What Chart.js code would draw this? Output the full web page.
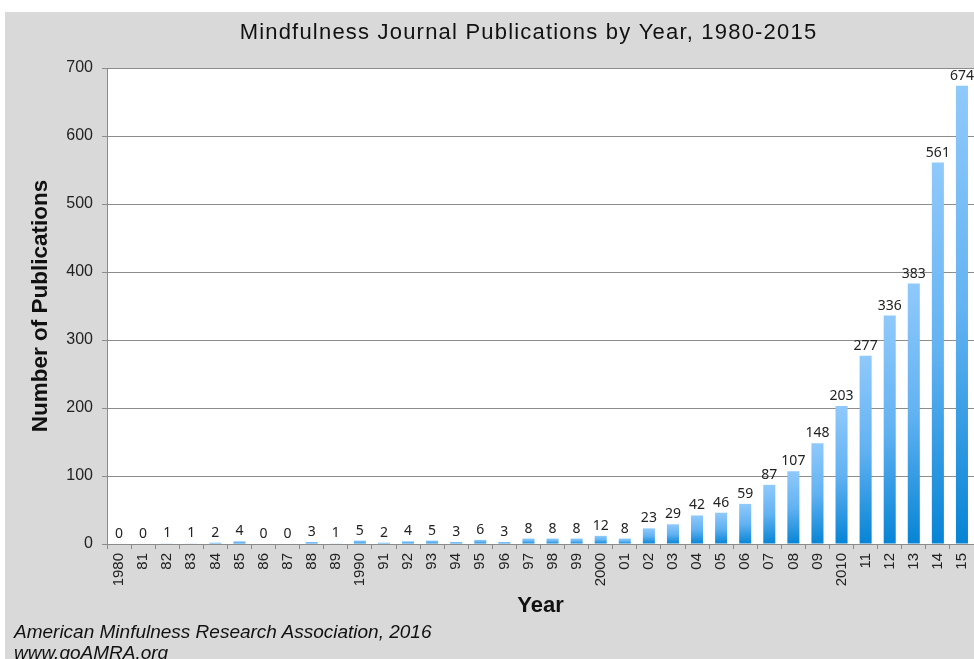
<!DOCTYPE html>
<html>
<head>
<meta charset="utf-8">
<script src="https://cdn.jsdelivr.net/npm/chart.js@4/dist/chart.umd.min.js"></script>
<style>
  html, body { margin: 0; padding: 0; background: #fff; overflow: hidden; }
  #wrap { position: absolute; left: 5px; top: 12px; width: 969px; height: 647px; background: #d9d9d9; }
  #myChart { position: absolute; left: 0; top: 0; }
  .footer { position: absolute; left: 9px; top: 609px; font: italic 19px "Liberation Sans", Arial, sans-serif; line-height: 21px; color: #111; }
</style>
</head>
<body>
<div id="wrap">
  <canvas id="myChart" width="969" height="647"></canvas>
  <div class="footer">American Minfulness Research Association, 2016<br>www.goAMRA.org</div>
</div>
<script>
const years = ['1980', '81', '82', '83', '84', '85', '86', '87', '88', '89',
    '1990', '91', '92', '93', '94', '95', '96', '97', '98', '99',
    '2000', '01', '02', '03', '04', '05', '06', '07', '08', '09',
    '2010', '11', '12', '13', '14', '15'];
const publications = [0, 0, 1, 1, 2, 4, 0, 0, 3, 1,
    5, 2, 4, 5, 3, 6, 3, 8, 8, 8,
    12, 8, 23, 29, 42, 46, 59, 87, 107, 148,
    203, 277, 336, 383, 561, 674];
const yTicks = [0, 100, 200, 300, 400, 500, 600, 700];

const titleText = 'Mindfulness Journal Publications by Year, 1980-2015';
const lineColor = '#8c8c8c';

// white plot area, title, value labels
const chartDecor = {
    id: 'chartDecor',
    beforeDraw(chart) {
        const a = chart.chartArea;
        const c = chart.ctx;
        c.save();
        c.fillStyle = '#fff';
        c.fillRect(a.left, a.top, a.right - a.left, a.bottom - a.top);
        c.fillStyle = '#111';
        c.font = '22px "Liberation Sans", Arial, sans-serif';
        c.letterSpacing = '1.2px';
        c.textAlign = 'center';
        c.textBaseline = 'middle';
        c.fillText(titleText, (a.left + a.right) / 2 - 12, 21);
        c.restore();
    },
    afterDatasetsDraw(chart) {
        const c = chart.ctx;
        const meta = chart.getDatasetMeta(0);
        c.save();
        c.fillStyle = '#222';
        c.font = '14px "Noto Sans", sans-serif';
        c.textAlign = 'center';
        c.textBaseline = 'alphabetic';
        meta.data.forEach((el, i) => {
            c.fillText(String(publications[i]), el.x, el.y - 6);
        });
        c.restore();
    }
};

function barFill(ctx) {
    const chart = ctx.chart;
    if (!chart.chartArea || ctx.type !== 'data') return '#5aaef0';
    const y = chart.scales.y;
    const top = y.getPixelForValue(ctx.raw);
    const base = y.getPixelForValue(0);
    if (base - top < 1) return '#8ec8fb';
    const g = chart.ctx.createLinearGradient(0, top, 0, base);
    g.addColorStop(0, '#90c9fb');
    g.addColorStop(0.5, '#62b2f2');
    g.addColorStop(1, '#0684d5');
    return g;
}

const ctx = document.getElementById('myChart');

new Chart(ctx, {
    type: 'bar',
    data: {
        labels: years,
        datasets: [{
            label: 'Publications',
            data: publications,
            backgroundColor: barFill,
            borderWidth: 0,
            barPercentage: 0.5,
            categoryPercentage: 1.0
        }]
    },
    options: {
        responsive: false,
        animation: false,
        layout: { padding: { top: 56, right: 0, bottom: 35, left: 0 } },
        plugins: {
            legend: { display: false },
            tooltip: { enabled: false },
            title: { display: false }
        },
        scales: {
            x: {
                grid: { offset: true, drawOnChartArea: false, color: lineColor, tickLength: 5 },
                border: { color: lineColor },
                ticks: {
                    autoSkip: false, minRotation: 90, maxRotation: 90, padding: 4,
                    color: '#222', font: { family: '"Liberation Sans", Arial', size: 15 }
                },
                title: {
                    display: true, text: 'Year', color: '#111',
                    font: { family: '"Liberation Sans", Arial', size: 22, weight: 'bold' },
                    padding: { top: 0, bottom: 5 }
                },
                afterFit(s) { s.height = 80; s.paddingLeft = 0; s.paddingRight = 0; }
            },
            y: {
                min: 0,
                max: 700,
                afterBuildTicks(s) { s.ticks = yTicks.map(v => ({ value: v })); },
                grid: { color: lineColor, tickLength: 5 },
                border: { color: lineColor },
                ticks: {
                    padding: 9, color: '#222',
                    font: { family: '"Liberation Sans", Arial', size: 16 }
                },
                title: {
                    display: true, text: 'Number of Publications', color: '#111',
                    font: { family: '"Liberation Sans", Arial', size: 22.5, weight: 'bold' },
                    padding: { top: 22, bottom: 0 }
                },
                afterFit(s) { s.width = 102; s.paddingTop = 0; s.paddingBottom = 0; }
            }
        }
    },
    plugins: [chartDecor]
});
</script>
</body>
</html>
